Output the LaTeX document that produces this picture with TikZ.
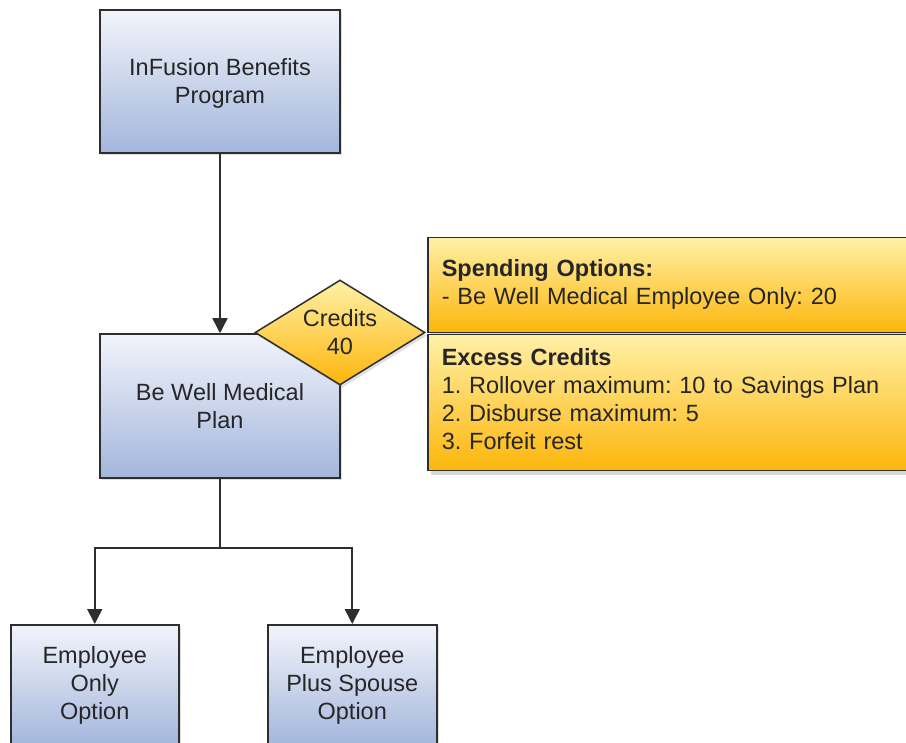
\documentclass[tikz,border=0pt]{standalone}
\usepackage{fontspec}
\setmainfont{Liberation Sans}
\frenchspacing
\usetikzlibrary{arrows.meta,shapes.geometric,shadows,positioning}
\definecolor{bluetop}{HTML}{F2F4FB}
\definecolor{bluebot}{HTML}{A3B6DC}
\definecolor{yeltop}{HTML}{FFF0A6}
\definecolor{yelbot}{HTML}{FDB60C}
\definecolor{edge}{HTML}{2E2E2E}
\tikzset{
  bluebox/.style={draw=edge, line width=1.5pt, top color=bluetop, bottom color=bluebot,
    align=center, inner sep=0pt, text=black!85,
    drop shadow={shadow xshift=2pt, shadow yshift=-2pt, opacity=0.25}},
  yelbox/.style={draw=edge, line width=1.5pt, top color=yeltop, bottom color=yelbot,
    align=left, inner xsep=14pt, inner ysep=0pt, text width=472pt, minimum width=500pt,
    anchor=north west, text=black!85,
    drop shadow={shadow xshift=3pt, shadow yshift=-4pt, opacity=0.3}},
  credit/.style={diamond, aspect=1.62, draw=edge, line width=1.5pt, top color=yeltop, bottom color=yelbot,
    inner sep=0pt, minimum width=170pt, minimum height=105pt, align=center, text=black!85,
    drop shadow={shadow xshift=2pt, shadow yshift=-3pt, opacity=0.25}},
  conn/.style={draw=edge, line width=1.6pt},
  arr/.style={conn, -{Triangle[width=15pt,length=15pt]}},
}
\begin{document}
\begin{tikzpicture}[x=1pt,y=-1pt, font=\fontsize{23.5}{28}\selectfont]
\useasboundingbox (0,0) rectangle (906,743);
\clip (0,0) rectangle (906,743);
\fill[white] (0,0) rectangle (906,743);

\node[bluebox, minimum width=240pt, minimum height=143pt] (prog) at (220,81.5) {\rule{0pt}{20pt}InFusion Benefits\\Program};
\node[bluebox, minimum width=240pt, minimum height=144pt] (plan) at (220,406) {Be Well Medical\\Plan};
\node[credit] (cred) at (340,332.5) {Credits\\40};

\node[yelbox, minimum height=95pt] (spend) at (427,237) {\textbf{Spending Options:}\\- Be Well Medical Employee Only: 20\vspace*{2pt}};
\node[yelbox, minimum height=136pt] (excess) at (427,334) {\textbf{Excess Credits}\\1. Rollover maximum: 10 to Savings Plan\\2. Disburse maximum: 5\\3. Forfeit rest\par\vspace*{7pt}};

\node[bluebox, minimum width=168pt, minimum height=121pt, anchor=north west] (opt1) at (10,624) {Employee\\Only\\Option};
\node[bluebox, minimum width=169pt, minimum height=121pt, anchor=north west] (opt2) at (267,624) {Employee\\Plus Spouse\\Option};

\coordinate (split) at (220,548);

\draw[arr] (prog.south) -- (plan.north);
\draw[conn] (plan.south) -- (split);
\draw[arr] (split) -| (opt1.north);
\draw[arr] (split) -| (opt2.north);
\end{tikzpicture}
\end{document}
